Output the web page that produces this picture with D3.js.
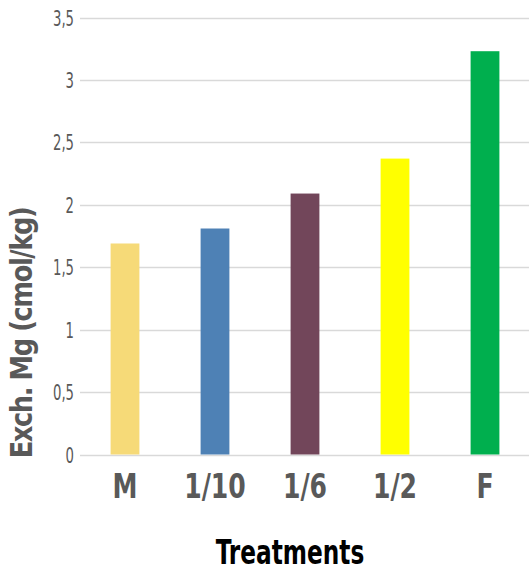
<!DOCTYPE html>
<html>
<head>
<meta charset="utf-8">
<script src="https://cdn.jsdelivr.net/npm/d3@7"></script>
<style>
  html, body { margin: 0; padding: 0; background: #fff; }
  svg { display: block; }
</style>
</head>
<body>
<svg id="chart" width="529" height="571"></svg>
<script>
// Exchangeable Mg by treatment
const treatments = ["M", "1/10", "1/6", "1/2", "F"];
const mgValues = [1.69, 1.81, 2.09, 2.37, 3.23];
const barColors = ["#F6DA78", "#4E81B5", "#72465A", "#FFFF00", "#00AF4E"];
const yTicks = [0, 0.5, 1, 1.5, 2, 2.5, 3, 3.5];

const svg = d3.select("#chart");
const margin = { left: 80, right: 0, top: 17.5, bottom: 116.5 };
const W = 529, H = 571;
const condensed = "'DejaVu Sans Condensed', 'DejaVu Sans'";

const x = d3.scaleBand()
  .domain(treatments)
  .range([margin.left, 530])
  .paddingInner(0.68)
  .paddingOuter(0.34);

const y = d3.scaleLinear()
  .domain([0, 3.5])
  .range([H - margin.bottom, margin.top]);

const fmt = d => String(d).replace(".", ",");

// horizontal gridlines
svg.append("g")
  .selectAll("line")
  .data(yTicks)
  .join("line")
  .attr("x1", margin.left)
  .attr("x2", W)
  .attr("y1", d => Math.round(y(d)) + 0.5)
  .attr("y2", d => Math.round(y(d)) + 0.5)
  .attr("stroke", "#D9D9D9")
  .attr("stroke-width", 1.5);

// y axis tick labels (narrow, right-aligned)
const yAxis = d3.axisLeft(y).tickValues(yTicks).tickFormat(fmt).tickSize(0).tickPadding(0);
const yg = svg.append("g").call(yAxis);
yg.select(".domain").remove();
yg.selectAll(".tick").each(function(d) {
  d3.select(this).attr("transform", null);
  d3.select(this).select("text")
    .attr("x", 0).attr("y", 0).attr("dy", null)
    .attr("transform", `translate(${margin.left - 6},${y(d) + 8}) scale(0.7,1)`)
    .attr("fill", "#595959")
    .attr("font-family", condensed)
    .attr("font-size", 21);
});

// bars
svg.append("g")
  .selectAll("rect")
  .data(treatments.map((t, i) => ({ t, v: mgValues[i], c: barColors[i] })))
  .join("rect")
  .attr("x", d => x(d.t))
  .attr("width", x.bandwidth())
  .attr("y", d => y(d.v))
  .attr("height", d => y(0) - y(d.v))
  .attr("fill", d => d.c);

// x axis category labels
const xAxis = d3.axisBottom(x).tickSize(0).tickPadding(0);
const xg = svg.append("g").call(xAxis);
xg.select(".domain").remove();
xg.selectAll(".tick").each(function(d) {
  const cx = x(d) + x.bandwidth() / 2;
  d3.select(this).attr("transform", null);
  d3.select(this).select("text")
    .attr("x", 0).attr("y", 0).attr("dy", null)
    .attr("transform", `translate(${cx},${y(0) + 43}) scale(0.82,1)`)
    .attr("fill", "#595959")
    .attr("font-family", condensed)
    .attr("font-weight", "bold")
    .attr("font-size", 34);
});

// x axis title
svg.append("text")
  .attr("x", 0).attr("y", 0)
  .attr("transform", "translate(290,564) scale(0.76,1)")
  .attr("text-anchor", "middle")
  .attr("font-family", condensed)
  .attr("font-weight", "bold")
  .attr("font-size", 34)
  .attr("fill", "#000")
  .text("Treatments");

// y axis title
svg.append("text")
  .attr("x", 0).attr("y", 0)
  .attr("transform", "translate(32,333) rotate(-90) scale(0.92,1)")
  .attr("text-anchor", "middle")
  .attr("font-family", condensed)
  .attr("font-weight", "bold")
  .attr("font-size", 31)
  .attr("letter-spacing", -1.5)
  .attr("fill", "#595959")
  .text("Exch. Mg (cmol/kg)");
</script>
</body>
</html>
